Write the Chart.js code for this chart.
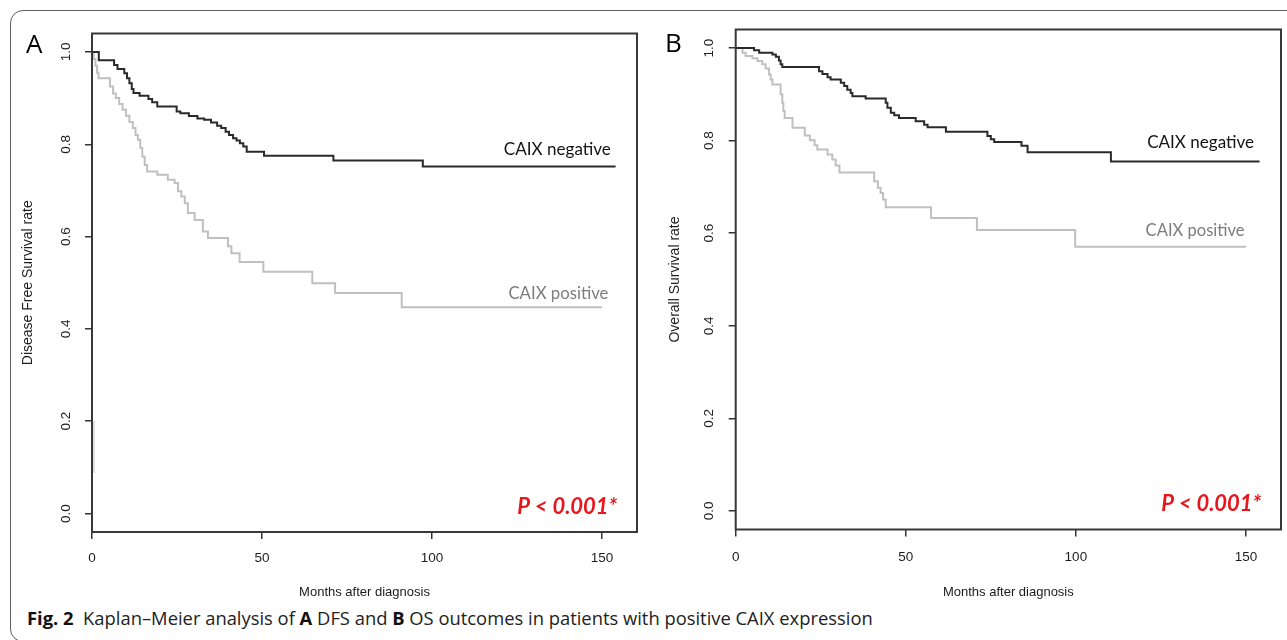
<!DOCTYPE html>
<html>
<head>
<meta charset="utf-8">
<script src="https://cdn.jsdelivr.net/npm/chart.js@4.4.1/dist/chart.umd.min.js"></script>
<style>
html,body{margin:0;padding:0;background:#fff;width:1287px;height:640px;overflow:hidden;position:relative;}
#frame{position:absolute;left:10px;top:10px;width:1320px;height:632px;border:1.5px solid #5c5c5c;border-radius:13px;box-sizing:border-box;}
canvas{position:absolute;top:0;}
#cA{left:0;}
#cB{left:645px;}
#caption{position:absolute;left:27px;top:610px;font-family:"Open Sans",sans-serif;font-size:17.5px;line-height:1;white-space:nowrap;color:#222;transform-origin:0 0;}
#caption b{font-weight:700;color:#111;}
</style>
</head>
<body>
<div id="frame"></div>
<canvas id="cA" width="645" height="605"></canvas>
<canvas id="cB" width="645" height="605"></canvas>
<div id="caption"><b>Fig. 2</b>&nbsp; Kaplan–Meier analysis of <b>A</b> DFS and <b>B</b> OS outcomes in patients with positive CAIX expression</div>
<script>
// ---- axis ticks ----
const xTicks = [0, 50, 100, 150];
const xTickLabels = ['0', '50', '100', '150'];
const yTicks = [0, 0.2, 0.4, 0.6, 0.8, 1.0];
const yTickLabels = ['0.0', '0.2', '0.4', '0.6', '0.8', '1.0'];

// ---- Panel A: Disease Free Survival ----
const dfsNegMonths = [0, 2.0, 6.5, 7.5, 9.5, 10.3, 11.0, 11.7, 12.2, 14.0, 16.6, 17.7, 19.2, 24.9, 26.0, 28.5, 31.0, 33.0, 35.0, 36.8, 38.0, 39.3, 40.3, 41.5, 42.5, 43.5, 44.5, 45.5, 50.6, 71.0, 97.3, 154.0];
const dfsNegRate   = [1.0, 0.982, 0.972, 0.963, 0.954, 0.943, 0.932, 0.920, 0.911, 0.905, 0.898, 0.891, 0.882, 0.871, 0.867, 0.861, 0.856, 0.853, 0.847, 0.840, 0.835, 0.827, 0.820, 0.813, 0.808, 0.802, 0.795, 0.784, 0.775, 0.765, 0.752, 0.752];
const dfsPosMonths = [0, 0.5, 1.0, 1.5, 1.9, 5.3, 6.2, 7.0, 8.0, 9.0, 10.0, 11.0, 12.0, 12.8, 13.5, 14.2, 14.8, 15.5, 16.2, 19.2, 22.3, 24.3, 25.3, 26.3, 27.3, 28.2, 30.2, 32.6, 34.1, 40.0, 41.0, 43.4, 50.4, 64.8, 71.5, 91.1, 150.0];
const dfsPosRate   = [1.0, 0.985, 0.97, 0.955, 0.943, 0.925, 0.91, 0.90, 0.887, 0.875, 0.862, 0.848, 0.835, 0.82, 0.81, 0.792, 0.773, 0.755, 0.741, 0.734, 0.723, 0.716, 0.698, 0.687, 0.672, 0.651, 0.636, 0.611, 0.597, 0.579, 0.564, 0.545, 0.524, 0.499, 0.478, 0.447, 0.447];
const dfsStrayMonths = [0.6, 0.6];
const dfsStrayRate   = [0.2, 0.088];

// ---- Panel B: Overall Survival ----
const osNegMonths = [0, 5.4, 6.9, 10.8, 11.8, 12.7, 13.2, 13.7, 24.5, 25.5, 27.0, 27.9, 30.9, 31.9, 32.8, 33.8, 34.3, 38.2, 44.1, 44.6, 45.6, 46.6, 48.0, 52.9, 55.4, 56.4, 61.8, 74.0, 75.0, 76.0, 84.0, 85.8, 110.3, 154.0];
const osNegRate   = [1.0, 0.995, 0.99, 0.986, 0.981, 0.973, 0.965, 0.959, 0.95, 0.944, 0.937, 0.932, 0.925, 0.918, 0.91, 0.903, 0.896, 0.891, 0.882, 0.871, 0.86, 0.855, 0.849, 0.842, 0.834, 0.829, 0.819, 0.81, 0.803, 0.797, 0.789, 0.775, 0.755, 0.755];
const osPosMonths = [0, 2.0, 2.9, 4.9, 6.4, 7.8, 8.8, 9.8, 10.3, 10.8, 13.2, 13.7, 14.0, 14.4, 16.7, 20.3, 21.8, 23.2, 24.0, 27.0, 28.4, 29.4, 30.5, 40.7, 41.8, 42.6, 43.3, 44.1, 57.4, 70.9, 99.8, 150.0];
const osPosRate   = [1.0, 0.99, 0.983, 0.978, 0.972, 0.965, 0.956, 0.943, 0.932, 0.921, 0.90, 0.882, 0.864, 0.849, 0.828, 0.811, 0.801, 0.79, 0.781, 0.77, 0.759, 0.746, 0.731, 0.712, 0.698, 0.687, 0.673, 0.656, 0.633, 0.607, 0.571, 0.571];

const pts = (xs, ys) => xs.map((x, i) => ({ x: x, y: ys[i] }));
const DARK = '#2a2a2a', LIGHT = '#c0c0c0';
function km(label, xs, ys, color, w) {
  return { label: label, data: pts(xs, ys), borderColor: color, borderWidth: w, stepped: 'before',
           pointRadius: 0, fill: false, borderJoinStyle: 'miter' };
}

const AXF = '"Liberation Sans", Arial, sans-serif';

function fitText(ctx, text, x, y, width, align) {
  const m = ctx.measureText(text).width;
  const sx = width / m;
  ctx.save();
  const left = align === 'right' ? x - width : x;
  ctx.translate(left, y);
  ctx.scale(sx, 1);
  ctx.textAlign = 'left';
  ctx.fillText(text, 0, 0);
  ctx.restore();
}

function makeChart(id, cfg) {
  const decor = {
    id: 'kmDecor' + id,
    afterDraw(chart) {
      const { ctx, chartArea: a, scales: { x, y } } = chart;
      ctx.save();
      // box
      ctx.strokeStyle = '#383838';
      ctx.lineWidth = 2;
      ctx.strokeRect(a.left, a.top, a.right - a.left, a.bottom - a.top);
      // rotated y tick labels
      ctx.fillStyle = '#1e1e1e';
      ctx.font = '13.5px ' + AXF;
      ctx.textAlign = 'center';
      ctx.textBaseline = 'middle';
      yTicks.forEach((v, i) => {
        ctx.save();
        ctx.translate(a.left - 26, y.getPixelForValue(v));
        ctx.rotate(-Math.PI / 2);
        ctx.fillText(yTickLabels[i], 0, 0);
        ctx.restore();
      });
      // y title
      ctx.save();
      ctx.font = '14px ' + AXF;
      ctx.translate(cfg.yTitleX, (a.top + a.bottom) / 2);
      ctx.rotate(-Math.PI / 2);
      ctx.fillText(cfg.yTitle, 0, 0);
      ctx.restore();
      // panel letter
      ctx.fillStyle = '#000';
      ctx.font = '26px "Open Sans", sans-serif';
      ctx.textAlign = 'left';
      ctx.textBaseline = 'alphabetic';
      ctx.fillText(cfg.letter, cfg.letterX, cfg.letterY);
      // curve labels and p-value
      cfg.notes.forEach(n => {
        ctx.fillStyle = n.color;
        ctx.font = n.font;
        ctx.textBaseline = 'alphabetic';
        fitText(ctx, n.text, x.getPixelForValue(n.t), y.getPixelForValue(n.s), n.width, 'right');
      });
      ctx.restore();
    }
  };
  return new Chart(document.getElementById(id), {
    type: 'line',
    data: { datasets: cfg.datasets },
    options: {
      responsive: false, animation: false, devicePixelRatio: 1,
      layout: { padding: { top: cfg.top, right: cfg.right, left: 0, bottom: 0 } },
      plugins: { legend: { display: false }, tooltip: { enabled: false } },
      scales: {
        x: {
          type: 'linear', min: 0, max: 160.3,
          afterBuildTicks: s => { s.ticks = xTicks.map(v => ({ value: v })); },
          afterFit: s => { s.height = cfg.xHeight; },
          grid: { drawOnChartArea: false, drawTicks: true, tickLength: 7, color: '#333', tickColor: '#333', lineWidth: 1.5 },
          border: { display: false },
          ticks: { padding: cfg.xPad, color: '#1e1e1e', maxRotation: 0, font: { family: AXF, size: 13.5 },
                   callback: (v, i) => xTickLabels[i] },
          title: { display: true, text: 'Months after diagnosis', color: '#1a1a1a',
                   font: { family: AXF, size: 13 }, padding: { top: 0, bottom: cfg.titlePad } }
        },
        y: {
          type: 'linear', min: -0.04, max: 1.04,
          afterBuildTicks: s => { s.ticks = yTicks.map(v => ({ value: v })); },
          afterFit: s => { s.width = cfg.yWidth; },
          grid: { drawOnChartArea: false, drawTicks: true, tickLength: 7, color: '#333', tickColor: '#333', lineWidth: 1.5 },
          border: { display: false },
          ticks: { display: false }
        }
      }
    },
    plugins: [decor]
  });
}

const negFont = '17px Lato, "Open Sans", sans-serif';
const pFont = 'italic bold 22px Lato, "Open Sans", sans-serif';

makeChart('cA', {
  top: 33.5, right: 8, yWidth: 92, xHeight: 73, xPad: 11, titlePad: 5.2,
  yTitle: 'Disease Free Survival rate', yTitleX: 28,
  letter: 'A', letterX: 26, letterY: 53,
  datasets: [
    km('CAIX negative', dfsNegMonths, dfsNegRate, DARK, 2),
    km('CAIX positive', dfsPosMonths, dfsPosRate, LIGHT, 2),
    km('stray', dfsStrayMonths, dfsStrayRate, '#d6d6d6', 1.5)
  ],
  notes: [
    { text: 'CAIX negative', t: 152.6, s: 0.776, width: 107, color: '#141414', font: negFont },
    { text: 'CAIX positive', t: 151.9, s: 0.464, width: 100, color: '#7c7c7c', font: negFont },
    { text: 'P < 0.001*', t: 154.5, s: -0.002, width: 100, color: '#e8161c', font: pFont }
  ]
});

makeChart('cB', {
  top: 29.5, right: 9, yWidth: 90.7, xHeight: 75.5, xPad: 12.2, titlePad: 4.5,
  yTitle: 'Overall Survival rate', yTitleX: 30,
  letter: 'B', letterX: 20, letterY: 52,
  datasets: [
    km('CAIX negative', osNegMonths, osNegRate, DARK, 2),
    km('CAIX positive', osPosMonths, osPosRate, LIGHT, 2)
  ],
  notes: [
    { text: 'CAIX negative', t: 152.4, s: 0.784, width: 107, color: '#141414', font: negFont },
    { text: 'CAIX positive', t: 149.6, s: 0.594, width: 99, color: '#7c7c7c', font: negFont },
    { text: 'P < 0.001*', t: 154.5, s: 0.0, width: 100, color: '#e8161c', font: pFont }
  ]
});

// caption width fit
const cap = document.getElementById('caption');
const cw = cap.scrollWidth;
cap.style.transform = 'scaleX(' + (846 / cw) + ')';
</script>
</body>
</html>
